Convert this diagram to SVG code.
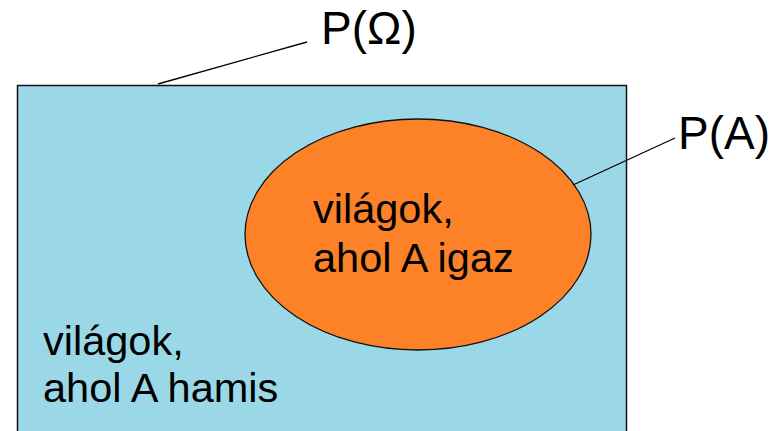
<svg xmlns="http://www.w3.org/2000/svg" width="782" height="431" viewBox="0 0 782 431">
  <style>
    .lbl { font-family: "Liberation Sans", Arial, sans-serif; fill: #000; }
    .big { font-size: 46px; }
    .txt { font-size: 41.5px; }
    .edge { stroke: #000; stroke-width: 1.3; fill: none; }
  </style>
  <rect width="782" height="431" fill="#fff"/>
  <g id="omega">
    <rect x="17.5" y="85.5" width="609" height="360" fill="#9AD8E8" stroke="#111" stroke-width="1.5"/>
    <text class="lbl txt" x="43" y="355">világok,</text>
    <text class="lbl txt" x="43" y="402">ahol A hamis</text>
  </g>
  <g id="setA">
    <ellipse cx="418" cy="234.5" rx="173" ry="115.5" fill="#FD8127" stroke="#111" stroke-width="1.3"/>
    <text class="lbl txt" x="313" y="223">világok,</text>
    <text class="lbl txt" x="313" y="272">ahol A igaz</text>
  </g>
  <g id="connectors">
    <line class="edge" x1="158" y1="84" x2="307" y2="42"/>
    <line class="edge" x1="573" y1="185" x2="675" y2="138"/>
  </g>
  <g id="labels">
    <text class="lbl big" x="321" y="44">P(Ω)</text>
    <text class="lbl big" x="678" y="149">P(A)</text>
  </g>
</svg>
